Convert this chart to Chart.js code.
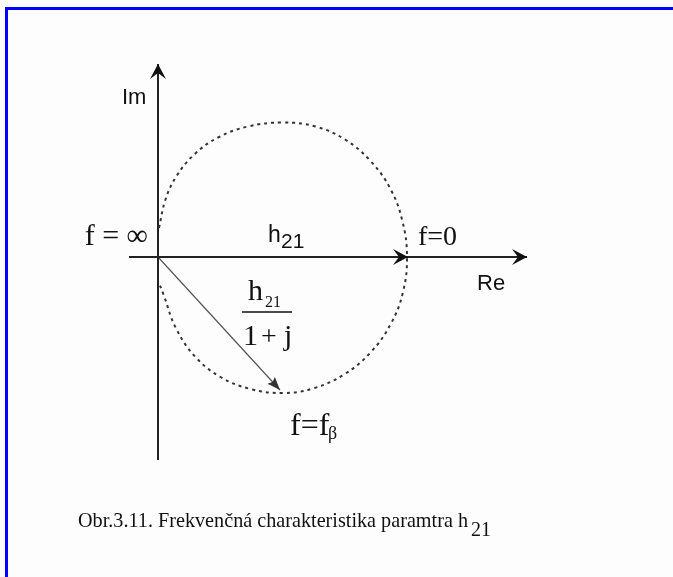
<!DOCTYPE html>
<html>
<head>
<meta charset="utf-8">
<script src="https://cdn.jsdelivr.net/npm/chart.js@4"></script>
<style>
  html, body { margin: 0; padding: 0; background: #fdfdfd; }
  #wrap { position: relative; width: 673px; height: 577px; overflow: hidden; }
  #frame { position: absolute; left: 5px; top: 7px; right: -10px; bottom: -10px;
           border-top: 3px solid #0000ff; border-left: 3px solid #0000ff; }
  canvas { position: absolute; left: 0; top: 0; }
</style>
</head>
<body>
<div id="wrap">
  <div id="frame"></div>
  <canvas id="h21_chart" width="673" height="577"></canvas>
</div>
<script>
// locus of h21(f), units where h21 = 10 on the Re axis
const circle_re = [0.04, 0.3, 0.75, 1.45, 2.4, 3.6, 5.0, 6.3, 7.48, 8.5, 9.3, 9.78, 9.96,
                   9.8, 9.32, 8.5, 7.44, 6.2, 5.0, 3.7, 2.5, 1.5, 0.72, 0.22, 0.04]
const circle_im = [1.16, 2.3, 3.25, 4.1, 4.78, 5.22, 5.38, 5.22, 4.7, 3.84, 2.72, 1.42, 0,
                   -1.4, -2.66, -3.82, -4.7, -5.26, -5.44, -5.28, -4.8, -4.0, -2.85, -1.5, -1.04]

// axes (from, to)
const re_axis_re = [-1.16, 14.76]
const re_axis_im = [0, 0]
const im_axis_re = [0, 0]
const im_axis_im = [-8.12, 7.72]

// phasors from the origin
const h21_re = 10.0
const h21_im = 0
const h21_fb_re = 4.88   // h21 / (1 + j)
const h21_fb_im = -5.32

const circle_points = circle_re.map((re, i) => ({x: re, y: circle_im[i]}))

const serif = '"Liberation Serif", "Times New Roman", serif'
const sans  = '"Liberation Sans", Arial, sans-serif'

// arrow heads + all the labels, placed in data units through the scales
const drawing_plugin = {
  id: 'drawing_plugin',
  afterDatasetsDraw(chart) {
    const ctx = chart.ctx
    const sx = chart.scales.x
    const sy = chart.scales.y
    const px = v => sx.getPixelForValue(v)
    const py = v => sy.getPixelForValue(v)

    function arrow_head(x0, y0, x1, y1, len, half, notch, color) {
      const ax = px(x0), ay = py(y0), bx = px(x1), by = py(y1)
      const ang = Math.atan2(by - ay, bx - ax)
      ctx.save()
      ctx.translate(bx, by)
      ctx.rotate(ang)
      ctx.fillStyle = color
      ctx.beginPath()
      ctx.moveTo(0, 0)
      ctx.lineTo(-len, -half)
      ctx.lineTo(-len + notch, 0)
      ctx.lineTo(-len, half)
      ctx.closePath()
      ctx.fill()
      ctx.restore()
    }

    arrow_head(re_axis_re[0], re_axis_im[0], re_axis_re[1], re_axis_im[1], 15, 8, 6, '#111')
    arrow_head(im_axis_re[0], im_axis_im[0], im_axis_re[1], im_axis_im[1], 15, 8, 6, '#111')
    arrow_head(0, 0, h21_re, h21_im, 15, 8, 6, '#111')
    arrow_head(0, 0, h21_fb_re, h21_fb_im, 13, 5, 2, '#333')

    function text(str, x, y, font, align) {
      ctx.font = font
      ctx.fillStyle = '#111'
      ctx.textAlign = align || 'left'
      ctx.textBaseline = 'alphabetic'
      ctx.fillText(str, px(x), py(y))
    }

    ctx.save()
    text('Im', -1.44, 6.12, '22px ' + sans)
    text('Re', 12.76, -1.32, '22px ' + sans)
    text('h', 4.4, 0.6, '23px ' + sans)
    text('21', 4.92, 0.36, '21px ' + sans)

    text('f = \u221E', -0.4, 0.48, '30px ' + serif, 'right')
    text('f=0', 10.4, 0.48, '28px ' + serif)

    // fraction h21 / (1 + j)
    text('h', 3.6, -1.72, '30px ' + serif)
    text('21', 4.28, -2.0, '16px ' + serif)
    ctx.strokeStyle = '#111'
    ctx.lineWidth = 1.5
    ctx.beginPath()
    ctx.moveTo(px(3.36), py(-2.2))
    ctx.lineTo(px(5.36), py(-2.2))
    ctx.stroke()
    text('1', 3.4, -3.52, '30px ' + serif)
    text('+', 4.44, -3.52, '28px ' + serif, 'center')
    text('j', 5.04, -3.52, '30px ' + serif)

    text('f=f', 5.28, -7.12, '32px ' + serif)
    text('\u03B2', 6.8, -7.28, '18px ' + serif)

    // caption, squeezed to the width of the original bitmap font
    const caption = 'Obr.3.11. Frekven\u010Dn\u00E1 charakteristika paramtra h'
    ctx.font = '21px ' + serif
    const w = ctx.measureText(caption).width
    const target = px(12.4) - px(-3.2)
    ctx.save()
    ctx.translate(px(-3.2), py(-10.8))
    ctx.scale(target / w, 1)
    ctx.fillStyle = '#111'
    ctx.textAlign = 'left'
    ctx.fillText(caption, 0, 0)
    ctx.restore()
    text('21', 12.52, -11.16, '20px ' + serif)
    ctx.restore()
  }
}

const ctx = document.getElementById('h21_chart').getContext('2d')

const chart = new Chart(ctx, {
  type: 'scatter',
  data: {
    datasets: [
      {
        label: 'h21(f)',
        data: circle_points,
        showLine: true,
        borderColor: '#333',
        borderWidth: 2,
        borderDash: [3, 4],
        tension: 0.4,
        pointRadius: 0
      },
      {
        label: 'Re',
        data: [{x: re_axis_re[0], y: re_axis_im[0]}, {x: re_axis_re[1], y: re_axis_im[1]}],
        showLine: true,
        borderColor: '#222',
        borderWidth: 2,
        pointRadius: 0
      },
      {
        label: 'Im',
        data: [{x: im_axis_re[0], y: im_axis_im[0]}, {x: im_axis_re[1], y: im_axis_im[1]}],
        showLine: true,
        borderColor: '#222',
        borderWidth: 2,
        pointRadius: 0
      },
      {
        label: 'h21/(1+j)',
        data: [{x: 0, y: 0}, {x: h21_fb_re, y: h21_fb_im}],
        showLine: true,
        borderColor: '#555',
        borderWidth: 1.2,
        pointRadius: 0
      }
    ]
  },
  options: {
    responsive: false,
    animation: false,
    layout: { padding: 0 },
    plugins: {
      legend: { display: false },
      tooltip: { enabled: false },
      title: { display: false }
    },
    scales: {
      x: { type: 'linear', display: false, min: -6.32, max: 20.6 },
      y: { type: 'linear', display: false, min: -12.8, max: 10.28 }
    }
  },
  plugins: [drawing_plugin]
});
</script>
</body>
</html>
